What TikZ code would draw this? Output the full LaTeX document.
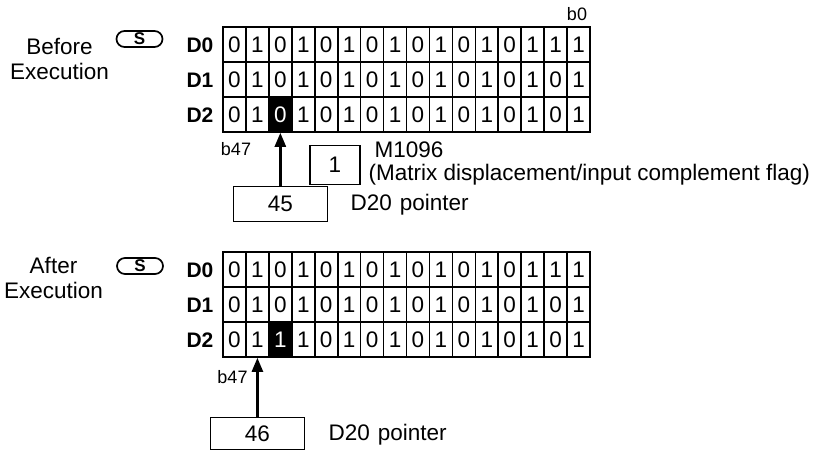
\documentclass[tikz,border=0pt]{standalone}
\usepackage{fontspec}
\setmainfont{Liberation Sans}
\usetikzlibrary{arrows.meta, positioning, shapes.misc}

\tikzset{
  cell/.style={draw, line width=1.6pt, minimum width=22.94pt, minimum height=35pt, inner sep=0pt, font=\fontsize{22.5}{22.5}\selectfont},
  hi/bef-2-2/.style={fill=black, text=white},
  hi/aft-2-2/.style={fill=black, text=white},
  regname/.style={font=\fontsize{21}{21}\selectfont\bfseries},
  bitname/.style={font=\fontsize{18}{18}\selectfont},
  txt/.style={font=\fontsize{22.5}{25}\selectfont},
  valbox/.style={draw, line width=1.4pt, minimum width=94pt, minimum height=35pt, inner sep=0pt, font=\fontsize{22.5}{25}\selectfont},
  sbadge/.style={draw, rounded rectangle, line width=1.7pt, minimum width=46pt, minimum height=16pt, inner sep=0pt, font=\fontsize{17}{17}\selectfont\bfseries},
  ptr/.style={-{Triangle[width=11pt,length=14pt]}, line width=2.5pt},
}

\begin{document}
\begin{tikzpicture}[x=1pt, y=-1pt]
  \useasboundingbox (0,0) rectangle (814,452);

  % --- Before execution ---
  \node[txt, align=center, anchor=base] (bef-title) at (59.5,80) {Before\\Execution};
  \node[sbadge] (bef-s) at (139.5,39) {S};
  \foreach \r/\bits in {0/{0,1,0,1,0,1,0,1,0,1,0,1,0,1,1,1},
                        1/{0,1,0,1,0,1,0,1,0,1,0,1,0,1,0,1},
                        2/{0,1,0,1,0,1,0,1,0,1,0,1,0,1,0,1}}{
    \node[regname] (bef-D\r) at (200,45.5+35*\r) {D\r};
    \foreach \b [count=\c from 0] in \bits
      \node[cell, hi/bef-\r-\c/.try] (bef-\r-\c) at (234.47+22.94*\c,44.5+35*\r) {\b};
  }
  \node[bitname, anchor=base] (bef-b0) at (577,21) {b0};
  \node[bitname, anchor=base] (bef-b47) at (236,155) {b47};
  % flag M1096
  \node[draw, line width=1.4pt, minimum width=50pt, minimum height=39pt, txt] (bef-flag) at (335,165) {1};
  \node[txt, anchor=base west] (bef-flagname) at (371,157) {M1096};
  \node[txt, anchor=base west] (bef-flagnote) at (365,180) {(Matrix displacement/input complement flag)};
  % pointer D20
  \node[valbox, below=53pt of bef-2-2] (bef-ptr) {45};
  \node[txt, anchor=base west] (bef-ptrname) at (347,210) {D20\hspace{8pt}pointer};
  \draw[ptr] (bef-ptr) -- (bef-2-2);

  % --- After execution ---
  \node[txt, align=center, anchor=base] (aft-title) at (53.5,298) {After\\Execution};
  \node[sbadge] (aft-s) at (140,266) {S};
  \foreach \r/\bits in {0/{0,1,0,1,0,1,0,1,0,1,0,1,0,1,1,1},
                        1/{0,1,0,1,0,1,0,1,0,1,0,1,0,1,0,1},
                        2/{0,1,1,1,0,1,0,1,0,1,0,1,0,1,0,1}}{
    \node[regname] (aft-D\r) at (200,270.5+35*\r) {D\r};
    \foreach \b [count=\c from 0] in \bits
      \node[cell, hi/aft-\r-\c/.try] (aft-\r-\c) at (234.47+22.94*\c,269.5+35*\r) {\b};
  }
  \node[bitname, anchor=base] (aft-b47) at (232.5,383) {b47};
  % pointer D20
  \node[valbox, minimum height=32pt, below=59pt of aft-2-1] (aft-ptr) {46};
  \node[txt, anchor=base west] (aft-ptrname) at (325,440) {D20\hspace{8pt}pointer};
  \draw[ptr] (aft-ptr) -- (aft-2-1);
\end{tikzpicture}
\end{document}
